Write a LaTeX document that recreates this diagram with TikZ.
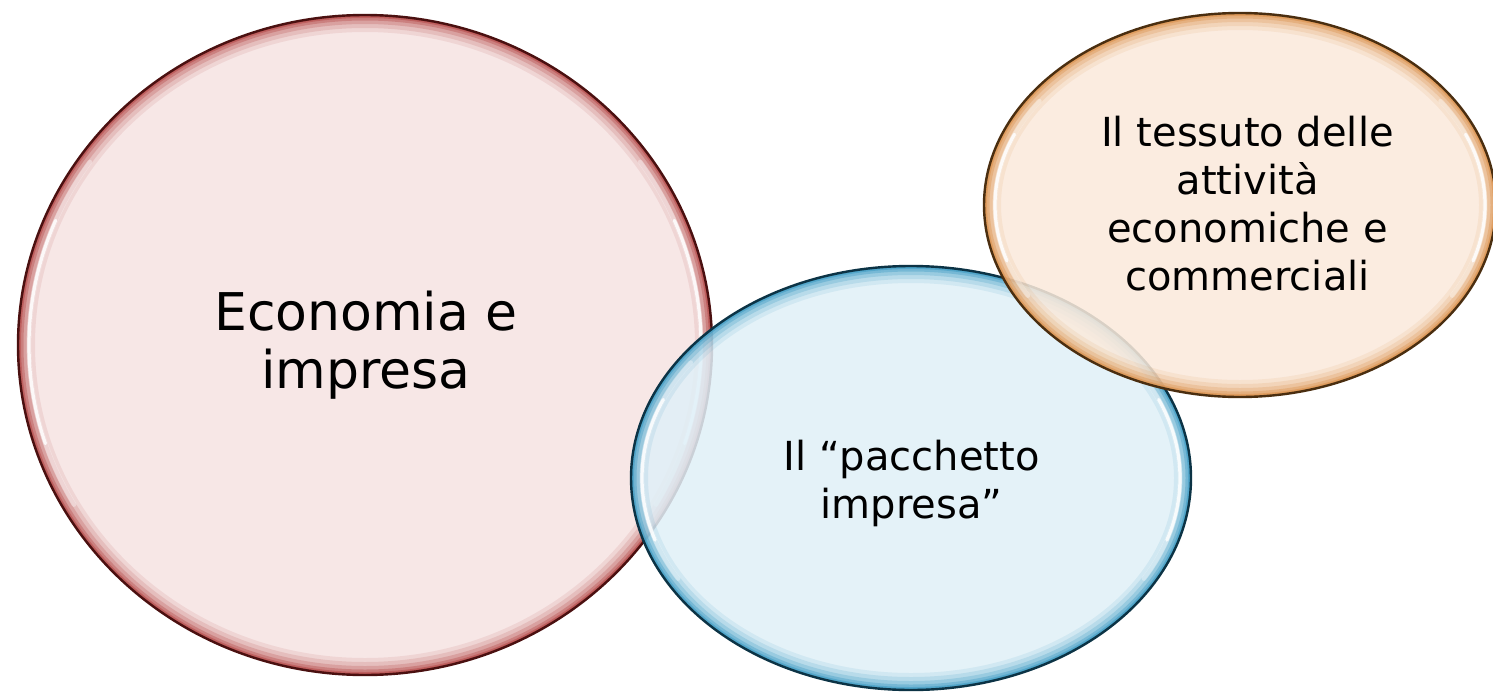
\documentclass[tikz,border=0pt]{standalone}
\usepackage{fontspec}
\setmainfont{DejaVu Sans}
\usetikzlibrary{calc}
\definecolor{redfill}{HTML}{F6E4E3}
\definecolor{redrim}{HTML}{B03C3C}
\definecolor{redline}{HTML}{4A1010}
\definecolor{bluefill}{HTML}{E0F0F8}
\definecolor{bluerim}{HTML}{2F93BE}
\definecolor{blueline}{HTML}{0C3345}
\definecolor{orangefill}{HTML}{FBEADB}
\definecolor{orangerim}{HTML}{D88A40}
\definecolor{orangeline}{HTML}{4A2E10}
\tikzset{
  lbl/.style={align=center, inner sep=0pt, text=black},
  bigtext/.style={lbl, font=\fontsize{26pt}{29pt}\selectfont},
  smalltext/.style={lbl, font=\fontsize{20pt}{24pt}\selectfont}
}
% #1 cx, #2 cy, #3 rx, #4 ry, #5 colour prefix, #6 inner rx, #7 inner ry
\newcommand\mybubble[7]{%
  \begin{scope}
    \clip (#1,#2) ellipse [x radius=#3, y radius=#4];
    \fill[#5fill, fill opacity=0.86] (#1,#2) ellipse [x radius=#3, y radius=#4];
    \foreach \w/\o in {34/0.10, 26/0.15, 18/0.22, 11/0.32, 6/0.45, 3/0.55} {
      \draw[#5rim, line width=\w*0.5pt, draw opacity=\o] (#1,#2) ellipse [x radius=#3, y radius=#4];
    }
    \draw[white, line width=2.4pt, draw opacity=0.35, line cap=round]
      ($(#1,#2)+(150:#6 and #7)$) arc[start angle=150, end angle=215, x radius=#6, y radius=#7];
    \draw[white, line width=1.6pt, draw opacity=0.85, line cap=round]
      ($(#1,#2)+(162:#6 and #7)$) arc[start angle=162, end angle=203, x radius=#6, y radius=#7];
    \draw[white, line width=2.4pt, draw opacity=0.35, line cap=round]
      ($(#1,#2)+(-35:#6 and #7)$) arc[start angle=-35, end angle=30, x radius=#6, y radius=#7];
    \draw[white, line width=1.6pt, draw opacity=0.85, line cap=round]
      ($(#1,#2)+(-23:#6 and #7)$) arc[start angle=-23, end angle=18, x radius=#6, y radius=#7];
  \end{scope}
  \draw[#5line, line width=1.2pt] (#1,#2) ellipse [x radius=#3, y radius=#4];
}
\begin{document}
\begin{tikzpicture}[x=0.5pt, y=-0.5pt]
  \fill[white] (0,0) rectangle (1493,696);
  \useasboundingbox (0,0) rectangle (1493,696);
  \clip (0,0) rectangle (1493,696);
  \mybubble{365}{345}{347}{330}{red}{336}{319}
  \mybubble{911}{478}{280}{212}{blue}{269}{201}
  \mybubble{1240}{205}{256}{192}{orange}{245}{181}
  \node[bigtext] (eco) at (366,345.5) {Economia e\\impresa};
  \node[smalltext] (pac) at (911.5,483) {Il “pacchetto\\impresa”};
  \node[smalltext] (tes) at (1247.5,204) {Il tessuto delle\\attività\\economiche e\\commerciali};
\end{tikzpicture}
\end{document}
